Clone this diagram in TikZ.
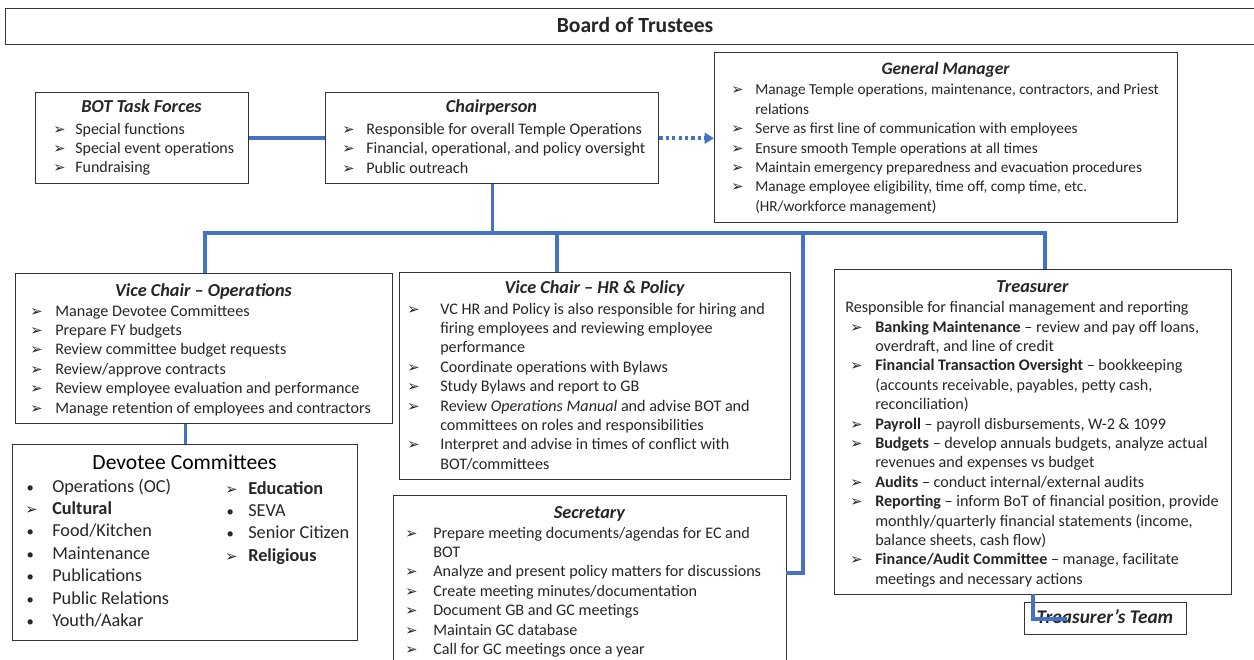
\documentclass[tikz,border=0pt]{standalone}
\usepackage{fontspec}
\setmainfont{Carlito}
\newfontfamily\symf{DejaVu Sans}
\usetikzlibrary{arrows.meta}
\definecolor{lnblue}{HTML}{4472C4}
\definecolor{txtc}{HTML}{262626}
\definecolor{bxc}{HTML}{333333}
\newlength\itind
\newcommand\arr{{\symf\fontsize{11}{11}\selectfont ➢}}
\newcommand\itm[1]{\par\hangindent=\itind\hangafter=1\noindent\makebox[\itind][l]{\arr}#1}
\newcommand\bitm[1]{\par\hangindent=\itind\hangafter=1\noindent\makebox[\itind][l]{\hspace{1pt}{\fontsize{11}{11}\selectfont•}}#1}
\newcommand\bodytext[3]{\parbox[t]{520pt}{\setlength\itind{#1}\fontsize{#2}{14.55}\selectfont\parskip=0pt #3}}
\newcommand\pbox[5]{\node[bx,anchor=north west,minimum width={(#4-#2)*0.75pt},minimum height={(#5-#3)*0.75pt}] (#1) at (#2,#3) {};}
\tikzset{
  bx/.style={draw=bxc,line width=1.1pt,inner sep=0pt,fill=white},
  ttl/.style={anchor=base,inner sep=0pt,text=txtc,font=\fontsize{13.7}{15}\selectfont\bfseries\itshape},
  bodyn/.style={anchor=base west,inner sep=0pt,text=txtc},
  conn/.style={draw=lnblue,line width=2.6pt},
  dotconn/.style={draw=lnblue,line width=2.8pt,dash pattern=on 2.4pt off 2.4pt,-{Triangle[length=7pt,width=8pt]}}
}
\begin{document}
\begin{tikzpicture}[x=0.75pt,y=-0.75pt]
\useasboundingbox[fill=white] (0,0) rectangle (1254,660);

% Board of Trustees
\pbox{bot}{5}{8}{1262}{44}
\node[anchor=base,inner sep=0pt,text=txtc,font=\fontsize{16.2}{18}\selectfont\bfseries] (botT) at (635,32.5) {Board of Trustees};

% BOT Task Forces
\pbox{tf}{35}{92}{248}{183}
\node[ttl] (tfT) at (141.5,113) {BOT Task Forces};
\node[bodyn] (tfB) at (53,134) {\bodytext{16.5pt}{12}{%
\itm{Special functions}
\itm{Special event operations}
\itm{Fundraising}}};

% Chairperson
\pbox{chair}{325}{92}{658}{183}
\node[ttl] (chairT) at (491.5,113) {Chairperson};
\node[bodyn] (chairB) at (342,134.5) {\bodytext{18pt}{12.1}{%
\itm{Responsible for overall Temple Operations}
\itm{Financial, operational, and policy oversight}
\itm{Public outreach}}};

% General Manager
\pbox{gm}{714}{52}{1177}{222}
\node[ttl,font=\fontsize{13.1}{15}\selectfont\bfseries\itshape] (gmT) at (945.5,75) {General Manager};
\node[bodyn] (gmB) at (731,95) {\bodytext{18pt}{11.45}{%
\itm{Manage Temple operations, maintenance, contractors, and Priest\\relations}
\itm{Serve as first line of communication with employees}
\itm{Ensure smooth Temple operations at all times}
\itm{Maintain emergency preparedness and evacuation procedures}
\itm{Manage employee eligibility, time off, comp time, etc.\\(HR/workforce management)}}};

% Vice Chair Operations
\pbox{vco}{15}{273}{392}{423}
\node[ttl] (vcoT) at (203.5,296) {Vice Chair – Operations};
\node[bodyn] (vcoB) at (30,316) {\bodytext{18.75pt}{12.1}{%
\itm{Manage Devotee Committees}
\itm{Prepare FY budgets}
\itm{Review committee budget requests}
\itm{Review/approve contracts}
\itm{Review employee evaluation and performance}
\itm{Manage retention of employees and contractors}}};

% Vice Chair HR & Policy
\pbox{vch}{399}{272}{790}{479}
\node[ttl] (vchT) at (594.5,293) {Vice Chair – HR \& Policy};
\node[bodyn] (vchB) at (407,314) {\bodytext{24.75pt}{12.1}{%
\itm{VC HR and Policy is also responsible for hiring and\\firing employees and reviewing employee\\performance}
\itm{Coordinate operations with Bylaws}
\itm{Study Bylaws and report to GB}
\itm{Review \textit{Operations Manual} and advise BOT and\\committees on roles and responsibilities}
\itm{Interpret and advise in times of conflict with\\BOT/committees}}};

% Treasurer
\pbox{tre}{834}{269}{1231}{594}
\node[ttl] (treT) at (1032.5,292) {Treasurer};
\node[bodyn,font=\fontsize{12.1}{14.55}\selectfont] (treR) at (845,312) {Responsible for financial management and reporting};
\node[bodyn] (treB) at (850,332) {\bodytext{18.75pt}{12.1}{%
\itm{\textbf{Banking Maintenance} – review and pay off loans,\\overdraft, and line of credit}
\itm{\textbf{Financial Transaction Oversight} – bookkeeping\\(accounts receivable, payables, petty cash,\\reconciliation)}
\itm{\textbf{Payroll} – payroll disbursements, W-2 \& 1099}
\itm{\textbf{Budgets} – develop annuals budgets, analyze actual\\revenues and expenses vs budget}
\itm{\textbf{Audits} – conduct internal/external audits}
\itm{\textbf{Reporting} – inform BoT of financial position, provide\\monthly/quarterly financial statements (income,\\balance sheets, cash flow)}
\itm{\textbf{Finance/Audit Committee} – manage, facilitate\\meetings and necessary actions}}};

% Treasurer's Team
\pbox{team}{1024}{602}{1186}{634}
\node[ttl,font=\fontsize{14.5}{16}\selectfont\bfseries\itshape] (teamT) at (1105,623.5) {Treasurer’s Team};

% Secretary
\pbox{sec}{393}{495}{786}{690}
\node[ttl] (secT) at (589.5,518) {Secretary};
\node[bodyn] (secB) at (405,538) {\bodytext{21pt}{12.1}{%
\itm{Prepare meeting documents/agendas for EC and\\BOT}
\itm{Analyze and present policy matters for discussions}
\itm{Create meeting minutes/documentation}
\itm{Document GB and GC meetings}
\itm{Maintain GC database}
\itm{Call for GC meetings once a year}}};

% Devotee Committees
\pbox{dev}{12}{444}{357}{640}
\node[anchor=base,inner sep=0pt,text=black,font=\fontsize{16.2}{18}\selectfont] (devT) at (184.5,469.5) {Devotee Committees};
\node[bodyn] (devL) at (25,492) {\parbox[t]{200pt}{\setlength\itind{20.25pt}\fontsize{13.7}{16.8}\selectfont\parskip=0pt
\bitm{Operations (OC)}
\itm{\textbf{Cultural}}
\bitm{Food/Kitchen}
\bitm{Maintenance}
\bitm{Publications}
\bitm{Public Relations}
\bitm{Youth/Aakar}}};
\node[bodyn] (devR) at (225,494) {\parbox[t]{120pt}{\setlength\itind{17.25pt}\fontsize{13.7}{16.8}\selectfont\parskip=0pt
\itm{\textbf{Education}}
\bitm{SEVA}
\bitm{Senior Citizen}
\itm{\textbf{Religious}}}};

% Connectors
\coordinate (busL) at (205,233);
\coordinate (busR) at (1045,233);
\coordinate (hrDrop) at (557,233);
\coordinate (secDrop) at (803,233);
\coordinate (secJoin) at (786,573);
\coordinate (tmStart) at (1033,594);
\coordinate (tmEnd) at (1067,619);

\draw[conn] (tf.east) -- (chair.west);
\draw[dotconn] (chair.east) -- (chair.east -| gm.west);
\draw[conn] (chair.south) -- (chair.south |- busL);
\draw[conn] (vco.north -| busL) -- (busL) -- (busR) -- (busR |- tre.north);
\draw[conn] (hrDrop) -- (hrDrop |- vch.north);
\draw[conn] (secDrop) |- (secJoin);
\draw[conn] (dev.north) -- (dev.north |- vco.south);
\draw[conn] (tmStart) |- (tmEnd);
\end{tikzpicture}
\end{document}
